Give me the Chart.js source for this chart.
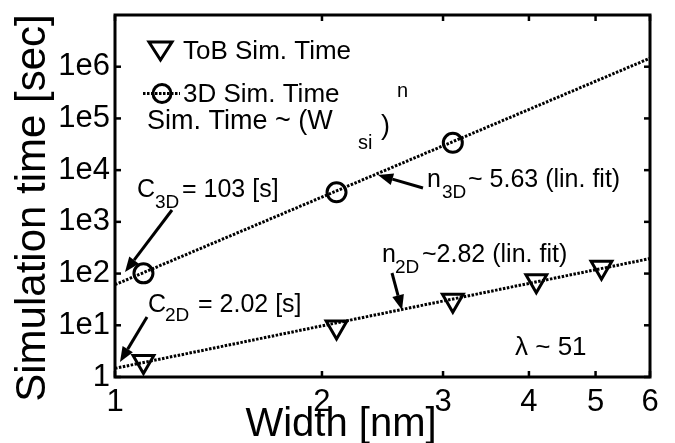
<!DOCTYPE html>
<html>
<head>
<meta charset="utf-8">
<script src="https://cdn.jsdelivr.net/npm/chart.js@4.4.1/dist/chart.umd.min.js"></script>
<style>
  body { margin: 0; background: #fff; }
  canvas { display: block; }
</style>
</head>
<body>
<canvas id="grafico" width="675" height="443"></canvas>
<script>
// valores
const anchosToB = [1.1, 2.1, 3.1, 4.1, 5.1];
const tiempoToB = [2.0, 9.3, 30.5, 73, 132];
const anchos3D = [1.1, 2.1, 3.1];
const tiempo3D = [101, 3730, 33800];
const ajusteX = [1, 6];
const ajuste2D = [1.47, 195];
const ajuste3D = [61, 1.46e6];
const ticksX = [1, 2, 3, 4, 5, 6];
const ticksY = [1, 10, 100, 1e3, 1e4, 1e5, 1e6];
const etiquetasY = ['1', '1e1', '1e2', '1e3', '1e4', '1e5', '1e6'];

const FUENTE = '"Liberation Sans", Arial, sans-serif';

function puntos(xs, ys) {
    return xs.map((x, i) => ({ x: x, y: ys[i] }));
}

function linea(ctx, x1, y1, x2, y2) {
    ctx.beginPath();
    ctx.moveTo(x1, y1);
    ctx.lineTo(x2, y2);
    ctx.stroke();
}

// flecha con punta rellena
function flecha(ctx, x1, y1, x2, y2) {
    const ang = Math.atan2(y2 - y1, x2 - x1);
    const largo = 15, ancho = 6;
    const bx = x2 - Math.cos(ang) * largo, by = y2 - Math.sin(ang) * largo;
    ctx.lineWidth = 3;
    linea(ctx, x1, y1, bx, by);
    ctx.beginPath();
    ctx.moveTo(x2, y2);
    ctx.lineTo(bx + Math.sin(ang) * ancho, by - Math.cos(ang) * ancho);
    ctx.lineTo(bx - Math.sin(ang) * ancho, by + Math.cos(ang) * ancho);
    ctx.closePath();
    ctx.fill();
}

function texto(ctx, str, x, y, size) {
    ctx.font = size + 'px ' + FUENTE;
    ctx.fillText(str, x, y);
}

// caja, marcas interiores, títulos, leyenda y anotaciones estilo MATLAB
const decoracion = {
    id: 'decoracion',
    beforeDraw(chart) {
        const ctx = chart.ctx;
        ctx.save();
        ctx.fillStyle = '#fff';
        ctx.fillRect(0, 0, chart.width, chart.height);
        ctx.restore();
    },
    afterDraw(chart) {
        const { ctx, chartArea: a, scales } = chart;
        ctx.save();
        ctx.strokeStyle = '#000';
        ctx.fillStyle = '#000';
        ctx.lineWidth = 3;
        ctx.strokeRect(a.left, a.top, a.right - a.left, a.bottom - a.top);

        ctx.lineWidth = 2.5;
        ticksX.forEach(v => {
            const px = scales.x.getPixelForValue(v);
            linea(ctx, px, a.bottom, px, a.bottom - 6);
            linea(ctx, px, a.top, px, a.top + 6);
        });
        ticksY.forEach(v => {
            const py = scales.y.getPixelForValue(v);
            linea(ctx, a.left, py, a.left + 6, py);
            linea(ctx, a.right, py, a.right - 6, py);
        });

        // títulos de los ejes
        ctx.textBaseline = 'alphabetic';
        ctx.textAlign = 'center';
        texto(ctx, 'Width [nm]', 341, 436, 40);
        ctx.save();
        ctx.translate(45, 208);
        ctx.rotate(-Math.PI / 2);
        texto(ctx, 'Simulation time [sec]', 0, 0, 42);
        ctx.restore();

        ctx.textAlign = 'left';
        // leyenda
        ctx.lineWidth = 3;
        ctx.beginPath();
        ctx.moveTo(149, 42); ctx.lineTo(172, 42); ctx.lineTo(160.5, 60); ctx.closePath();
        ctx.stroke();
        texto(ctx, 'ToB Sim. Time', 183, 59, 26);
        ctx.setLineDash([2.5, 1.5]);
        linea(ctx, 143, 93.5, 180, 93.5);
        ctx.setLineDash([]);
        ctx.beginPath();
        ctx.arc(162, 93.5, 9, 0, Math.PI * 2);
        ctx.stroke();
        texto(ctx, '3D Sim. Time', 183, 102, 26);
        texto(ctx, 'Sim. Time ~ (W', 147, 129, 27);
        texto(ctx, 'si', 358, 149, 20);
        texto(ctx, ')', 381, 134, 27);
        texto(ctx, 'n', 397, 97, 20);

        // anotaciones
        texto(ctx, 'C', 137, 197, 25);
        texto(ctx, '3D', 155, 208, 19);
        texto(ctx, '= 103 [s]', 182, 197, 25);
        flecha(ctx, 172, 210, 125, 272);

        texto(ctx, 'n', 427, 187, 25);
        texto(ctx, '3D', 442, 198, 19);
        texto(ctx, '~ 5.63 (lin. fit)', 468, 187, 25);
        flecha(ctx, 423, 188, 378, 175);

        texto(ctx, 'n', 382, 262, 25);
        texto(ctx, '2D', 395, 273, 19);
        texto(ctx, '~2.82 (lin. fit)', 422, 262, 25);
        flecha(ctx, 392, 273, 402, 310);

        texto(ctx, 'C', 148, 312, 25);
        texto(ctx, '2D', 165, 321, 19);
        texto(ctx, '= 2.02 [s]', 198, 312, 25);
        flecha(ctx, 147, 317, 120, 362);

        texto(ctx, 'λ ~ 51', 515, 355, 26);
        ctx.restore();
    }
};

const ctx = document.getElementById('grafico').getContext('2d');
const chart = new Chart(ctx, {
    type: 'scatter',
    data: {
        datasets: [
            {
                label: 'ajuste 2D',
                data: puntos(ajusteX, ajuste2D),
                showLine: true,
                borderColor: '#000',
                borderWidth: 3,
                borderDash: [2.5, 1.5],
                pointRadius: 0
            },
            {
                label: 'ajuste 3D',
                data: puntos(ajusteX, ajuste3D),
                showLine: true,
                borderColor: '#000',
                borderWidth: 3,
                borderDash: [2.5, 1.5],
                pointRadius: 0
            },
            {
                label: 'ToB Sim. Time',
                data: puntos(anchosToB, tiempoToB),
                pointStyle: 'triangle',
                rotation: 180,
                pointRadius: 12,
                borderColor: '#000',
                borderWidth: 3,
                backgroundColor: 'rgba(0,0,0,0)'
            },
            {
                label: '3D Sim. Time',
                data: puntos(anchos3D, tiempo3D),
                pointStyle: 'circle',
                pointRadius: 9.5,
                borderColor: '#000',
                borderWidth: 3,
                backgroundColor: 'rgba(0,0,0,0)'
            }
        ]
    },
    options: {
        responsive: false,
        animation: false,
        layout: { padding: { top: 10, right: 25, left: 0, bottom: 0 } },
        plugins: {
            legend: { display: false },
            tooltip: { enabled: false }
        },
        scales: {
            x: {
                type: 'logarithmic',
                min: 1,
                max: 6,
                border: { display: false },
                grid: { display: false, drawTicks: false },
                afterBuildTicks: s => { s.ticks = ticksX.map(v => ({ value: v })); },
                afterFit: s => { s.height = 66; s.paddingLeft = 0; s.paddingRight = 0; s.paddingTop = 0; s.paddingBottom = 0; },
                ticks: {
                    autoSkip: false,
                    maxRotation: 0,
                    padding: 7,
                    color: '#000',
                    font: { family: FUENTE, size: 31 },
                    callback: v => String(v)
                }
            },
            y: {
                type: 'logarithmic',
                min: 1,
                max: 1e7,
                border: { display: false },
                grid: { display: false, drawTicks: false },
                afterBuildTicks: s => { s.ticks = ticksY.map(v => ({ value: v })); },
                afterFit: s => { s.width = 115; s.paddingLeft = 0; s.paddingRight = 0; s.paddingTop = 0; s.paddingBottom = 0; },
                ticks: {
                    autoSkip: false,
                    padding: 5,
                    color: '#000',
                    font: { family: FUENTE, size: 31 },
                    callback: (v, i) => etiquetasY[i]
                }
            }
        }
    },
    plugins: [decoracion]
});
</script>
</body>
</html>
